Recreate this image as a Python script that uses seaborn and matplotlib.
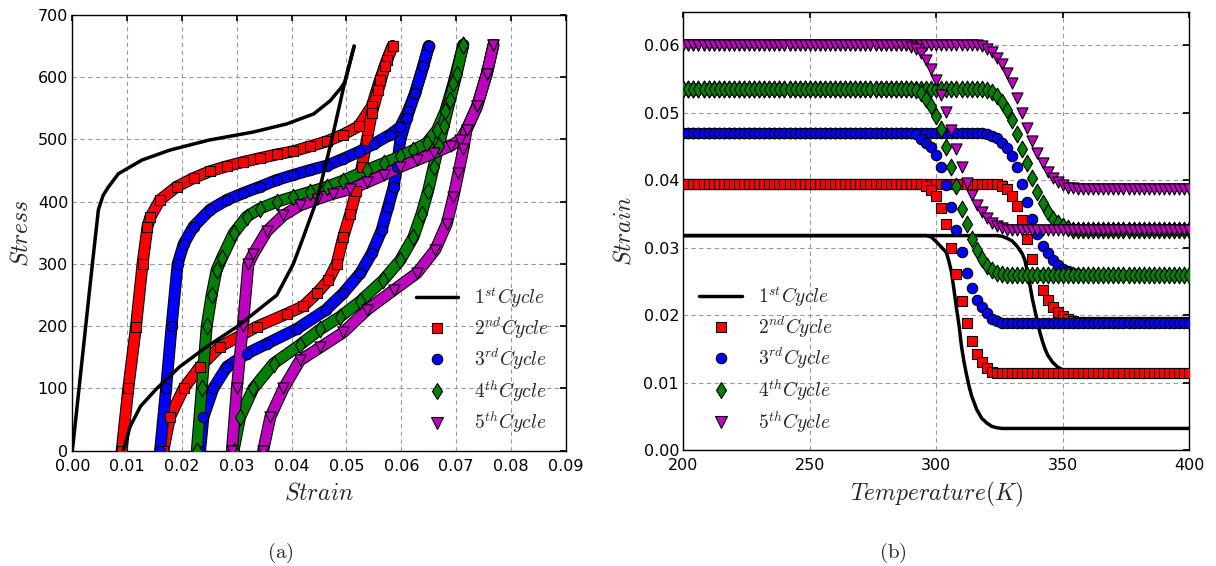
import numpy as np
import matplotlib
matplotlib.use("Agg")
import matplotlib.pyplot as plt
import matplotlib.patheffects as pe
from matplotlib.lines import Line2D
import seaborn as sns
import pandas as pd

# ---------------- data: (a) stress-strain loops ----------------
c1_load_strain = [0.0, 0.00365, 0.00475, 0.0056, 0.0066, 0.0084, 0.0127, 0.0178, 0.0249, 0.0330, 0.0391, 0.0440, 0.0470, 0.0490, 0.04975, 0.0514]
c1_load_stress = [0, 300, 387, 410, 424, 445, 467, 483, 499, 512, 525, 541, 562, 583, 593, 650]
c1_unload_strain = [0.0514, 0.0497, 0.0473, 0.0446, 0.0420, 0.0403, 0.0373, 0.0300, 0.0245, 0.0196, 0.0154, 0.0124, 0.0105, 0.0093]
c1_unload_stress = [650, 593, 499, 403, 340, 300, 250, 199, 167, 135, 100, 71, 38, 0]

c2_load_strain = [0.0090, 0.0102, 0.0116, 0.0128, 0.0137, 0.0142, 0.0160, 0.0190, 0.0221, 0.0251, 0.0282, 0.0312, 0.0342, 0.0373, 0.0403, 0.0434, 0.0464, 0.0494, 0.0522, 0.0546, 0.0561, 0.0574, 0.0584]
c2_load_stress = [0, 100, 199, 300, 360, 375, 403, 424, 438, 449, 457, 464, 470, 476, 481, 489, 497, 508, 521, 553, 596, 628, 650]
c2_unload_strain = [0.0584, 0.0570, 0.0558, 0.0546, 0.0537, 0.0528, 0.0518, 0.0507, 0.0494, 0.0482, 0.0467, 0.0446, 0.0421, 0.0391, 0.0336, 0.0269, 0.0233, 0.0203, 0.0178, 0.0166]
c2_unload_stress = [650, 618, 580, 542, 499, 456, 418, 381, 343, 300, 274, 253, 232, 220, 199, 167, 135, 100, 54, 0]

c3_load_strain = [0.0160, 0.0171, 0.0181, 0.0192, 0.0203, 0.0221, 0.0251, 0.0282, 0.0312, 0.0342, 0.0373, 0.0403, 0.0434, 0.0464, 0.0494, 0.0522, 0.0550, 0.0580, 0.0598, 0.0612, 0.0625, 0.0640, 0.0650]
c3_load_stress = [0, 100, 200, 300, 332, 360, 387, 403, 414, 424, 435, 443, 451, 458, 469, 480, 493, 508, 520, 545, 574, 618, 650]
c3_unload_strain = [0.0650, 0.0640, 0.0625, 0.0610, 0.0598, 0.0592, 0.0586, 0.0576, 0.0564, 0.0546, 0.0525, 0.0494, 0.0462, 0.0410, 0.0355, 0.0318, 0.0282, 0.0257, 0.0239, 0.0233]
c3_unload_stress = [650, 618, 574, 535, 499, 456, 424, 392, 354, 317, 285, 253, 226, 196, 172, 156, 135, 100, 54, 0]

c4_load_strain = [0.0227, 0.0236, 0.0245, 0.0254, 0.0263, 0.0273, 0.0294, 0.0318, 0.0342, 0.0373, 0.0403, 0.0434, 0.0464, 0.0494, 0.0537, 0.0568, 0.0598, 0.0622, 0.0646, 0.0665, 0.0680, 0.0695, 0.0713]
c4_load_stress = [0, 100, 200, 250, 290, 310, 349, 376, 389, 400, 408, 416, 424, 434, 451, 462, 473, 483, 494, 515, 545, 590, 652]
c4_unload_strain = [0.0713, 0.0701, 0.0689, 0.0677, 0.0668, 0.0659, 0.0649, 0.0637, 0.0622, 0.0598, 0.0567, 0.0525, 0.0488, 0.0452, 0.0415, 0.0367, 0.0330, 0.0306, 0.0294]
c4_unload_stress = [652, 606, 564, 521, 490, 456, 418, 381, 343, 306, 274, 240, 215, 195, 170, 140, 100, 54, 0]

c5_load_strain = [0.0291, 0.0300, 0.0311, 0.0321, 0.0330, 0.0355, 0.0385, 0.0415, 0.0446, 0.0476, 0.0507, 0.0537, 0.0568, 0.0598, 0.0629, 0.0659, 0.0690, 0.0707, 0.0719, 0.0738, 0.0756, 0.0768]
c5_load_stress = [0, 100, 200, 300, 316, 353, 378, 394, 404, 413, 420, 431, 443, 456, 467, 478, 490, 499, 516, 553, 606, 652]
c5_unload_strain = [0.0768, 0.0756, 0.0738, 0.0719, 0.0713, 0.0704, 0.0695, 0.0683, 0.0662, 0.0628, 0.0586, 0.0537, 0.0494, 0.0452, 0.0415, 0.0385, 0.0361, 0.0348]
c5_unload_stress = [652, 606, 553, 516, 484, 446, 408, 365, 323, 285, 258, 226, 190, 166, 145, 100, 54, 0]

# ---------------- data: (b) strain-temperature ----------------
T_grid = list(range(200, 401, 2))

k1_left_T = [200, 296, 298, 300, 302, 304, 305, 306, 307, 308, 309, 310, 311, 312, 313, 314, 316, 318, 320, 322, 324, 326, 400]
k1_left_s = [0.0318, 0.0318, 0.0316, 0.0309, 0.0301, 0.0293, 0.0280, 0.0264, 0.0238, 0.0210, 0.0185, 0.0153, 0.0130, 0.0111, 0.0094, 0.0080, 0.0060, 0.0047, 0.0040, 0.0035, 0.0033, 0.0032, 0.0032]
k1_right_T = [200, 324, 326, 328, 330, 332, 334, 335, 336, 337, 338, 339, 340, 341, 342, 343, 344, 346, 348, 350, 352, 354, 400]
k1_right_s = [0.0318, 0.0318, 0.0317, 0.0314, 0.0310, 0.0302, 0.0291, 0.0282, 0.0265, 0.0245, 0.0224, 0.0207, 0.0190, 0.0174, 0.0161, 0.0150, 0.0141, 0.0130, 0.0123, 0.0119, 0.0116, 0.0115, 0.0114]

# plateau (high, low) levels and transition values read at 2 K steps
k2_high, k2_left_low, k2_right_low = 0.0395, 0.0114, 0.0190
k2_left_start, k2_left_trans = 296, [0.0392, 0.0386, 0.0376, 0.0359, 0.0335, 0.0300, 0.0261, 0.0221, 0.0188, 0.0162, 0.0143, 0.0131, 0.0121, 0.0116]
k2_right_start, k2_right_trans = 324, [0.0394, 0.0392, 0.0387, 0.0377, 0.0362, 0.0341, 0.0313, 0.0284, 0.0260, 0.0238, 0.0222, 0.0212, 0.0204, 0.0199, 0.0195, 0.0192]

k3_high, k3_left_low, k3_right_low = 0.0470, 0.0189, 0.0260
k3_left_start, k3_left_trans = 292, [0.0468, 0.0461, 0.0456, 0.0450, 0.0438, 0.0420, 0.0393, 0.0361, 0.0326, 0.0293, 0.0263, 0.0241, 0.0223, 0.0212, 0.0203, 0.0195, 0.0191]
k3_right_start, k3_right_trans = 320, [0.0469, 0.0466, 0.0462, 0.0456, 0.0448, 0.0436, 0.0419, 0.0394, 0.0368, 0.0342, 0.0321, 0.0303, 0.0292, 0.0282, 0.0274, 0.0269, 0.0266, 0.0263, 0.0261]

k4_high, k4_left_low, k4_right_low = 0.0536, 0.0260, 0.0326
k4_left_start, k4_left_trans = 292, [0.0534, 0.0529, 0.0521, 0.0510, 0.0496, 0.0476, 0.0449, 0.0420, 0.0391, 0.0358, 0.0335, 0.0313, 0.0296, 0.0283, 0.0273, 0.0267, 0.0263, 0.0261]
k4_right_start, k4_right_trans = 318, [0.0536, 0.0534, 0.0531, 0.0525, 0.0516, 0.0504, 0.0489, 0.0469, 0.0447, 0.0425, 0.0403, 0.0383, 0.0367, 0.0353, 0.0343, 0.0337, 0.0332, 0.0329, 0.0327]

k5_high, k5_left_low, k5_right_low = 0.0600, 0.0326, 0.0387
k5_left_start, k5_left_trans = 290, [0.0598, 0.0595, 0.0589, 0.0579, 0.0565, 0.0549, 0.0527, 0.0502, 0.0474, 0.0446, 0.0419, 0.0396, 0.0378, 0.0364, 0.0353, 0.0344, 0.0337, 0.0332, 0.0329, 0.0327]
k5_right_start, k5_right_trans = 316, [0.0600, 0.0599, 0.0595, 0.0590, 0.0582, 0.0573, 0.0559, 0.0544, 0.0522, 0.0500, 0.0478, 0.0458, 0.0441, 0.0426, 0.0413, 0.0404, 0.0398, 0.0393, 0.0389, 0.0388]

legend_labels = [r"$1^{st}Cycle$", r"$2^{nd}Cycle$", r"$3^{rd}Cycle$", r"$4^{th}Cycle$", r"$5^{th}Cycle$"]

# ---------------- style ----------------
sns.set_theme(style="white")
plt.rcParams.update({
    "font.family": ["DejaVu Sans"],
    "mathtext.fontset": "cm",
    "axes.edgecolor": "black",
    "axes.linewidth": 1.0,
    "xtick.direction": "in",
    "ytick.direction": "in",
    "xtick.top": True,
    "ytick.right": True,
    "xtick.major.size": 4,
    "ytick.major.size": 4,
    "xtick.major.pad": 6,
    "ytick.major.pad": 3,
    "xtick.color": "black",
    "ytick.color": "black",
    "xtick.labelsize": 11.5,
    "ytick.labelsize": 11.5,
})

colors = ["black", (1, 0, 0), (0, 0, 1), (0, 0.5, 0), (0.75, 0, 0.75)]
markers = [None, "s", "o", "d", "v"]
msizes = [0, 7, 7.5, 8.5, 8]

fig = plt.figure(figsize=(12.16, 5.66), dpi=100)
ax1 = fig.add_axes([0.0595, 0.2037, 0.4058, 0.7698])
ax2 = fig.add_axes([0.5619, 0.2049, 0.4161, 0.7744])

for ax in (ax1, ax2):
    ax.grid(True, color="#9a9a9a", linestyle=(0, (4, 3)), linewidth=0.8)
    ax.set_axisbelow(True)

# ---------------- (a) ----------------
loops = [
    (c2_load_strain, c2_load_stress, c2_unload_strain, c2_unload_stress),
    (c3_load_strain, c3_load_stress, c3_unload_strain, c3_unload_stress),
    (c4_load_strain, c4_load_stress, c4_unload_strain, c4_unload_stress),
    (c5_load_strain, c5_load_stress, c5_unload_strain, c5_unload_stress),
]
for i, (ls, lst, us, ust) in enumerate(loops, start=1):
    col, mk, ms = colors[i], markers[i], msizes[i]
    bw = 7
    for xs, ys in ((ls, lst), (us, ust)):
        df = pd.DataFrame({"strain": xs, "stress": ys})
        sns.lineplot(data=df, x="strain", y="stress", sort=False, estimator=None,
                     color=col, linewidth=bw, ax=ax1, legend=False,
                     path_effects=[pe.Stroke(linewidth=bw + 1.6, foreground="black"), pe.Normal()])
        sns.scatterplot(data=df, x="strain", y="stress", marker=mk, s=ms ** 2,
                        color=col, edgecolor="black", linewidth=0.8, ax=ax1, legend=False, zorder=3)

for xs, ys in ((c1_load_strain, c1_load_stress), (c1_unload_strain, c1_unload_stress)):
    df = pd.DataFrame({"strain": xs, "stress": ys})
    sns.lineplot(data=df, x="strain", y="stress", sort=False, estimator=None,
                 color="black", linewidth=2.5, ax=ax1, legend=False, zorder=4)

ax1.set_xlim(0, 0.09)
ax1.set_ylim(0, 700)
ax1.set_xticks(np.arange(0, 0.0901, 0.01))
ax1.set_xticklabels([f"{v:.2f}" for v in np.arange(0, 0.0901, 0.01)])
ax1.set_yticks(range(0, 701, 100))
ax1.set_xlabel(r"$Strain$", fontsize=17, labelpad=5)
ax1.set_ylabel(r"$Stress$", fontsize=17, labelpad=4)

# ---------------- (b) ----------------
def branch(high, start, trans, low):
    n0 = T_grid.index(start)
    return [high] * n0 + list(trans) + [low] * (len(T_grid) - n0 - len(trans))

for T, s in ((k1_left_T, k1_left_s), (k1_right_T, k1_right_s)):
    df = pd.DataFrame({"T": T, "s": s})
    sns.lineplot(data=df, x="T", y="s", sort=False, estimator=None,
                 color="black", linewidth=2.5, ax=ax2, legend=False, zorder=2)

cyc_b = [
    (k2_high, k2_left_start, k2_left_trans, k2_left_low, k2_right_start, k2_right_trans, k2_right_low),
    (k3_high, k3_left_start, k3_left_trans, k3_left_low, k3_right_start, k3_right_trans, k3_right_low),
    (k4_high, k4_left_start, k4_left_trans, k4_left_low, k4_right_start, k4_right_trans, k4_right_low),
    (k5_high, k5_left_start, k5_left_trans, k5_left_low, k5_right_start, k5_right_trans, k5_right_low),
]
for i, (hi, ls, lt, ll, rs, rt, rl) in enumerate(cyc_b, start=1):
    for vals in (branch(hi, rs, rt, rl), branch(hi, ls, lt, ll)):
        df = pd.DataFrame({"T": T_grid, "s": vals})
        sns.scatterplot(data=df, x="T", y="s", marker=markers[i], s=msizes[i] ** 2,
                        color=colors[i], edgecolor="black", linewidth=0.8, ax=ax2,
                        legend=False, zorder=3)

ax2.set_xlim(200, 400)
ax2.set_ylim(0, 0.065)
ax2.set_xticks(range(200, 401, 50))
ax2.set_yticks(np.arange(0, 0.0601, 0.01))
ax2.set_yticklabels([f"{v:.2f}" for v in np.arange(0, 0.0601, 0.01)])
ax2.set_xlabel(r"$Temperature(K)$", fontsize=17, labelpad=5)
ax2.set_ylabel(r"$Strain$", fontsize=17, labelpad=6)

# ---------------- legends ----------------
def handles():
    h = [Line2D([], [], color="black", lw=2.5)]
    for i in range(1, 5):
        h.append(Line2D([], [], linestyle="none", marker=markers[i], markersize=msizes[i],
                        markerfacecolor=colors[i], markeredgecolor="black", markeredgewidth=0.8))
    return h

for ax, loc in ((ax1, (0.66, -0.005)), (ax2, (-0.003, -0.005))):
    ax.legend(handles(), legend_labels, loc="lower left", bbox_to_anchor=loc, frameon=False,
              fontsize=14, numpoints=1, handlelength=2.2, labelspacing=0.3, handletextpad=0.8)

fig.text(280 / 1216, 1 - 553 / 566, r"$\mathrm{(a)}$", ha="center", va="center", fontsize=15)
fig.text(893 / 1216, 1 - 553 / 566, r"$\mathrm{(b)}$", ha="center", va="center", fontsize=15)

fig.savefig("out.png", dpi=100)
